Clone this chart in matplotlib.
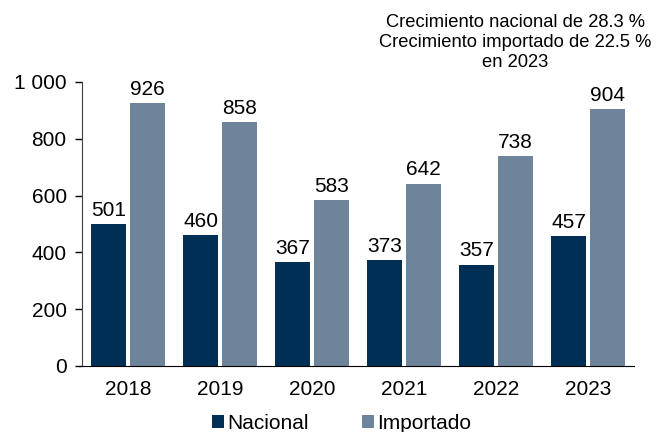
import matplotlib
matplotlib.use("Agg")
import matplotlib.pyplot as plt
import numpy as np

plt.rcParams['font.family'] = ['Liberation Sans', 'DejaVu Sans']

years = ['2018', '2019', '2020', '2021', '2022', '2023']
nacional = [501, 460, 367, 373, 357, 457]
importado = [926, 858, 583, 642, 738, 904]
yticks = [0, 200, 400, 600, 800, 1000]
ytick_labels = ['0', '200', '400', '600', '800', '1 000']
note = 'Crecimiento nacional de 28.3 %\nCrecimiento importado de 22.5 %\nen 2023'

c_nac = '#002F56'
c_imp = '#6E849A'

fig = plt.figure(figsize=(6.57, 4.32), dpi=100)
ax = fig.add_axes([0.1248, 0.1528, 0.8402, 0.6574])

x = np.arange(len(years))
w = 0.38
gap = 0.04
b1 = ax.bar(x - (w + gap) / 2, nacional, w, color=c_nac, label='Nacional')
b2 = ax.bar(x + (w + gap) / 2, importado, w, color=c_imp, label='Importado')

# value labels above each bar
for bars, vals in [(b1, nacional), (b2, importado)]:
    for b, v in zip(bars, vals):
        ax.annotate(str(v), (b.get_x() + b.get_width() / 2, v),
                    xytext=(0, 3), textcoords='offset points',
                    ha='center', va='bottom', fontsize=15)

ax.set_xlim(-0.5, 5.5)
ax.set_ylim(0, 1000)
ax.set_xticks(x)
ax.set_xticklabels(years, fontsize=15)
ax.set_yticks(yticks)
ax.set_yticklabels(ytick_labels, fontsize=15)
ax.tick_params(axis='x', length=0, pad=10)
ax.tick_params(axis='y', length=5, width=1, pad=6)
for s in ['top', 'right']:
    ax.spines[s].set_visible(False)
ax.spines['left'].set_color('#404040')
ax.spines['bottom'].set_color('#000000')

fig.text(0.784, 0.968, note, ha='center', va='top', fontsize=13.2,
         linespacing=1.25)

fig.legend(loc='center', bbox_to_anchor=(0.52, 0.02), ncol=2,
           frameon=False, fontsize=15, handlelength=0.55, handleheight=0.55,
           handletextpad=0.15, columnspacing=2.6, borderpad=0)

fig.savefig('out.png', dpi=100)
